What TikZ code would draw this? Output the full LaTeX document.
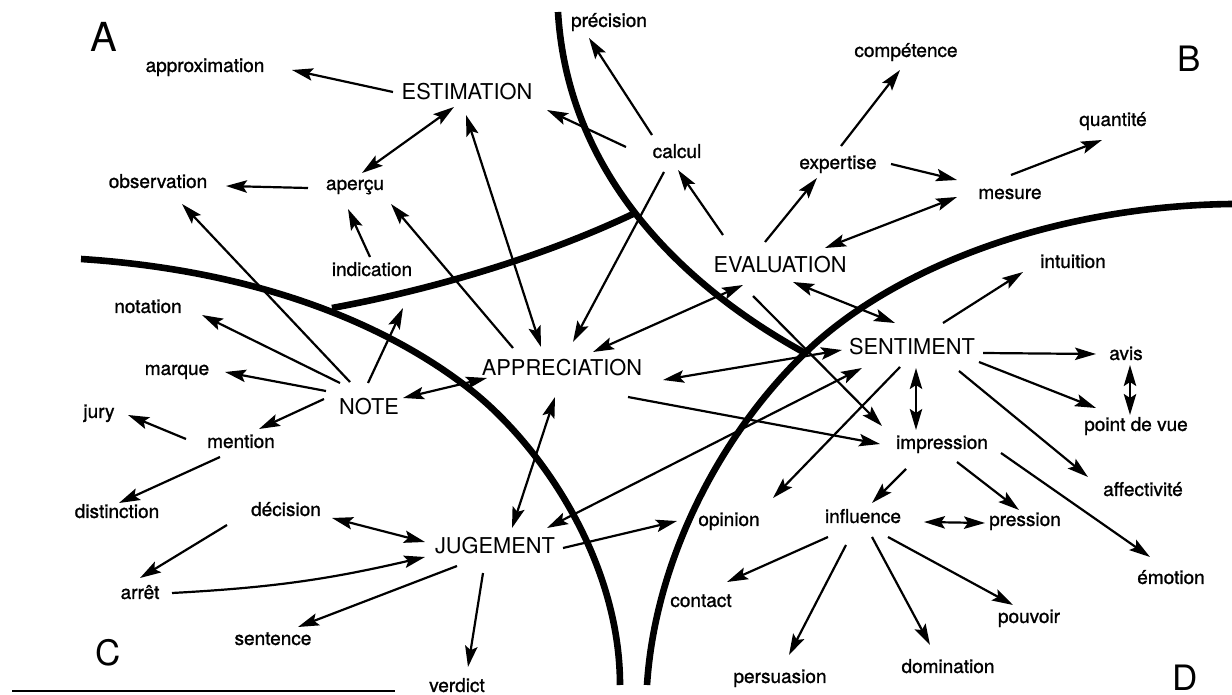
\documentclass[tikz,border=0pt]{standalone}
\usepackage{fontspec}
\setmainfont{TeX Gyre Heros}
\newfontfamily\wordfont{TeX Gyre Heros}[FakeBold=1.2]
\usetikzlibrary{arrows.meta}
\begin{document}
\begin{tikzpicture}[x=0.5pt,y=-0.5pt,
  word/.style={font=\wordfont\fontsize{9.5}{11}\selectfont, inner sep=0pt, text height=6.84pt, text depth=1.9pt},
  key/.style={font=\fontsize{10.9}{12}\selectfont, inner sep=0pt, text height=7.8pt, text depth=0pt},
  zoneletter/.style={font=\fontsize{17.5}{20}\selectfont, inner sep=0pt, anchor=base},
  boundary/.style={line width=3.3pt},
  link/.style={line width=1.1pt},
  toarrow/.style={link, -{Stealth[length=10.5pt,width=6.2pt,inset=2pt]}},
  bothway/.style={link, {Stealth[length=10.5pt,width=6.2pt,inset=2pt]}-{Stealth[length=10.5pt,width=6.2pt,inset=2pt]}},
]
\useasboundingbox (0,0) rectangle (1232,695);

% zone boundaries
\draw[boundary] (558,12) .. controls (568,180) and (690,290) .. (805,353);
\draw[boundary] (1232,204) .. controls (1050,206) and (890,270) .. (805,353)
                .. controls (720,435) and (655,560) .. (647,685);
\draw[boundary] (81,259) .. controls (250,270) and (380,320) .. (467,387)
                .. controls (540,443) and (620,560) .. (620,685);
\draw[boundary] (332,308) .. controls (430,290) and (540,258) .. (633,214);
\draw[line width=1.3pt] (12,691) -- (395,691);

% zone letters
\node[zoneletter, font=\fontsize{20}{22}\selectfont] (zoneA) at (104,52) {A};
\node[zoneletter] (zoneB) at (1189,72) {B};
\node[zoneletter] (zoneC) at (108,665) {C};
\node[zoneletter] (zoneD) at (1185,690) {D};

% key notions
\node[key] (estim) at (467,92) {ESTIMATION};
\node[key] (eval) at (780,265) {EVALUATION};
\node[key] (appr) at (562,368) {APPRECIATION};
\node[key] (note) at (369,407) {NOTE};
\node[key] (sent) at (912,347) {SENTIMENT};
\node[key] (jug) at (495,546) {JUGEMENT};

% related words
\node[word] (approx) at (205,67) {approximation};
\node[word] (prec) at (609,22) {précision};
\node[word] (comp) at (906,52) {compétence};
\node[word] (quant) at (1113,121) {quantité};
\node[word] (calcul) at (677,153) {calcul};
\node[word] (expert) at (838,164) {expertise};
\node[word] (mesure) at (1010,194) {mesure};
\node[word] (obs) at (158,183) {observation};
\node[word] (apercu) at (355,185) {aperçu};
\node[word] (indic) at (372,271) {indication};
\node[word] (intui) at (1073,263) {intuition};
\node[word] (notation) at (148,308) {notation};
\node[word] (marque) at (177,370) {marque};
\node[word] (avis) at (1126,355) {avis};
\node[word] (jury) at (99,413) {jury};
\node[word] (mention) at (241,443) {mention};
\node[word] (pdv) at (1136,426) {point de vue};
\node[word] (impr) at (942,444) {impression};
\node[word] (dist) at (117,513) {distinction};
\node[word] (decis) at (286,511) {décision};
\node[word] (affect) at (1143,491) {affectivité};
\node[word] (opinion) at (729,521) {opinion};
\node[word] (influ) at (863,518) {influence};
\node[word] (press) at (1025,521) {pression};
\node[word] (arret) at (140,594) {arrêt};
\node[word] (contact) at (701,602) {contact};
\node[word] (emo) at (1171,579) {émotion};
\node[word] (sentence) at (273,640) {sentence};
\node[word] (pouvoir) at (1029,618) {pouvoir};
\node[word] (domin) at (948,668) {domination};
\node[word] (persu) at (780,678) {persuasion};
\node[word] (verdict) at (457,687) {verdict};

\coordinate (noteup) at (403,308);

% links
\draw[toarrow] ([shift={(-74,0)}]estim.center) -- ([shift={(87,3)}]approx.center);
\draw[bothway] ([shift={(-13,15)}]estim.center) -- ([shift={(7,-12)}]apercu.center);
\draw[bothway] ([shift={(-1,23)}]estim.center) -- ([shift={(-21,-21)}]appr.center);
\draw[toarrow] ([shift={(-51,-6)}]calcul.center) -- ([shift={(80,18)}]estim.center);
\draw[toarrow] ([shift={(-25,-18)}]calcul.center) -- ([shift={(-20,16)}]prec.center);
\draw[toarrow] ([shift={(-47,3)}]apercu.center) -- ([shift={(68,3)}]obs.center);
\draw[toarrow] ([shift={(-2,-14)}]indic.center) -- ([shift={(-7,24)}]apercu.center);
\draw[toarrow] ([shift={(-19,-25)}]note.center) -- ([shift={(24,21)}]obs.center);
\draw[toarrow] ([shift={(-49,-20)}]appr.center) -- ([shift={(36,19)}]apercu.center);
\draw[toarrow] ([shift={(-29,-24)}]note.center) -- ([shift={(54,7)}]notation.center);
\draw[toarrow] ([shift={(-1,-24)}]note.center) -- (noteup);
\draw[toarrow] ([shift={(-13,19)}]calcul.center) -- ([shift={(11,-26)}]appr.center);
\draw[bothway] ([shift={(-37,20)}]eval.center) -- ([shift={(31,-16)}]appr.center);
\draw[bothway] ([shift={(-70,3)}]sent.center) -- ([shift={(101,12)}]appr.center);
\draw[toarrow] ([shift={(66,29)}]appr.center) -- ([shift={(-62,0)}]impr.center);
\draw[bothway] ([shift={(34,-9)}]note.center) -- ([shift={(-75,10)}]appr.center);
\draw[bothway] ([shift={(-7,29)}]appr.center) -- ([shift={(17,-18)}]jug.center);
\draw[toarrow] ([shift={(-57,-30)}]eval.center) -- ([shift={(1,17)}]calcul.center);
\draw[toarrow] ([shift={(-15,-23)}]eval.center) -- ([shift={(-21,14)}]expert.center);
\draw[bothway] ([shift={(45,-17)}]eval.center) -- ([shift={(-53,3)}]mesure.center);
\draw[toarrow] ([shift={(53,0)}]expert.center) -- ([shift={(-53,-14)}]mesure.center);
\draw[toarrow] ([shift={(3,-18)}]expert.center) -- ([shift={(-6,18)}]comp.center);
\draw[toarrow] ([shift={(1,-19)}]mesure.center) -- ([shift={(-11,19)}]quant.center);
\draw[bothway] ([shift={(13,17)}]eval.center) -- ([shift={(-17,-24)}]sent.center);
\draw[toarrow] ([shift={(-27,31)}]eval.center) -- ([shift={(-60,-18)}]impr.center);
\draw[toarrow] ([shift={(31,-24)}]sent.center) -- ([shift={(-50,9)}]intui.center);
\draw[bothway] ([shift={(52,-18)}]jug.center) -- ([shift={(-50,21)}]sent.center);
\draw[toarrow] ([shift={(-12,20)}]sent.center) -- ([shift={(44,-23)}]opinion.center);
\draw[toarrow] ([shift={(71,6)}]sent.center) -- ([shift={(-30,-1)}]avis.center);
\draw[bothway] ([shift={(4,10)}]avis.center) -- ([shift={(-6,-11)}]pdv.center);
\draw[toarrow] ([shift={(67,15)}]sent.center) -- ([shift={(-40,-18)}]pdv.center);
\draw[toarrow] ([shift={(47,24)}]sent.center) -- ([shift={(-55,-14)}]affect.center);
\draw[bothway] ([shift={(4,21)}]sent.center) -- ([shift={(-26,-14)}]impr.center);
\draw[toarrow] ([shift={(59,9)}]impr.center) -- ([shift={(-21,-22)}]emo.center);
\draw[toarrow] ([shift={(-36,25)}]impr.center) -- ([shift={(9,-15)}]influ.center);
\draw[toarrow] ([shift={(15,18)}]impr.center) -- ([shift={(-6,-11)}]press.center);
\draw[bothway] ([shift={(61,4)}]influ.center) -- ([shift={(-40,2)}]press.center);
\draw[toarrow] ([shift={(-35,19)}]influ.center) -- ([shift={(26,-20)}]contact.center);
\draw[toarrow] ([shift={(-17,27)}]influ.center) -- ([shift={(9,-23)}]persu.center);
\draw[toarrow] ([shift={(9,19)}]influ.center) -- ([shift={(-18,-23)}]domin.center);
\draw[toarrow] ([shift={(25,19)}]influ.center) -- ([shift={(-16,-13)}]pouvoir.center);
\draw[toarrow] ([shift={(68,2)}]jug.center) -- ([shift={(-52,0)}]opinion.center);
\draw[toarrow] ([shift={(-43,-16)}]note.center) -- ([shift={(48,2)}]marque.center);
\draw[toarrow] ([shift={(-45,-8)}]note.center) -- ([shift={(18,-14)}]mention.center);
\draw[toarrow] ([shift={(-55,-4)}]mention.center) -- ([shift={(29,2)}]jury.center);
\draw[toarrow] ([shift={(-21,14)}]mention.center) -- ([shift={(2,-10)}]dist.center);
\draw[bothway] ([shift={(46,7)}]decis.center) -- ([shift={(-70,-4)}]jug.center);
\draw[toarrow] ([shift={(-59,14)}]decis.center) -- ([shift={(0,-16)}]arret.center);
\draw[toarrow] ([shift={(32,-1)}]arret.center) to[bend right=5] ([shift={(-70,11)}]jug.center);
\draw[toarrow] ([shift={(-38,20)}]jug.center) -- ([shift={(25,-13)}]sentence.center);
\draw[toarrow] ([shift={(-12,27)}]jug.center) -- ([shift={(11,-20)}]verdict.center);
\end{tikzpicture}
\end{document}
